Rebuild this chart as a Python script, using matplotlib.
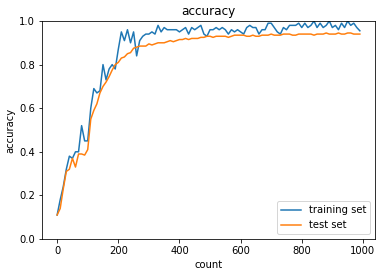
import matplotlib
matplotlib.use("Agg")
import matplotlib.pyplot as plt

count = list(range(0, 1000, 10))

train_acc = [0.11, 0.18, 0.24, 0.32, 0.38, 0.37, 0.40, 0.40, 0.52, 0.45,
             0.45, 0.60, 0.69, 0.67, 0.68, 0.80, 0.73, 0.78, 0.80, 0.78,
             0.87, 0.95, 0.91, 0.96, 0.90, 0.95, 0.84, 0.91, 0.93, 0.94,
             0.94, 0.95, 0.94, 0.98, 0.95, 0.97, 0.96, 0.96, 0.96, 0.96,
             0.95, 0.96, 0.97, 0.94, 0.97, 0.96, 0.97, 0.98, 0.94, 0.93,
             0.96, 0.96, 0.97, 0.96, 0.97, 0.96, 0.94, 0.96, 0.95, 0.96,
             0.95, 0.94, 0.97, 0.98, 0.97, 0.97, 0.94, 0.96, 0.96, 0.99,
             0.99, 0.97, 0.95, 0.94, 0.97, 0.96, 0.98, 0.98, 0.98, 0.99,
             0.97, 0.99, 0.97, 0.98, 1.00, 0.97, 0.99, 0.97, 0.98, 1.00,
             0.97, 0.98, 0.96, 0.99, 0.97, 1.00, 0.98, 0.99, 0.97, 0.955]

test_acc = [0.11, 0.14, 0.23, 0.31, 0.32, 0.37, 0.33, 0.39, 0.39, 0.385,
            0.41, 0.55, 0.59, 0.62, 0.67, 0.70, 0.72, 0.745, 0.775, 0.80,
            0.81, 0.83, 0.835, 0.85, 0.855, 0.875, 0.88, 0.885, 0.885, 0.885,
            0.895, 0.89, 0.895, 0.90, 0.90, 0.90, 0.905, 0.91, 0.905, 0.91,
            0.915, 0.915, 0.92, 0.915, 0.92, 0.92, 0.92, 0.925, 0.925, 0.93,
            0.93, 0.925, 0.93, 0.93, 0.93, 0.93, 0.925, 0.93, 0.935, 0.935,
            0.935, 0.935, 0.93, 0.93, 0.935, 0.93, 0.93, 0.935, 0.935, 0.935,
            0.94, 0.935, 0.935, 0.935, 0.94, 0.94, 0.94, 0.935, 0.935, 0.94,
            0.94, 0.94, 0.94, 0.94, 0.935, 0.94, 0.94, 0.94, 0.945, 0.94,
            0.94, 0.94, 0.945, 0.94, 0.94, 0.945, 0.945, 0.94, 0.94, 0.94]

fig = plt.figure(figsize=(381 / 72, 276 / 72), dpi=72)
ax = fig.add_axes([42 / 381, 1 - 239 / 276, 333 / 381, 218 / 276])

ax.plot(count, train_acc, label="training set")
ax.plot(count, test_acc, label="test set")
ax.set_ylim(0, 1.0)
ax.set_title("accuracy")
ax.set_xlabel("count")
ax.set_ylabel("accuracy")
ax.legend(loc="lower right")

fig.savefig("out.png", dpi=72)
